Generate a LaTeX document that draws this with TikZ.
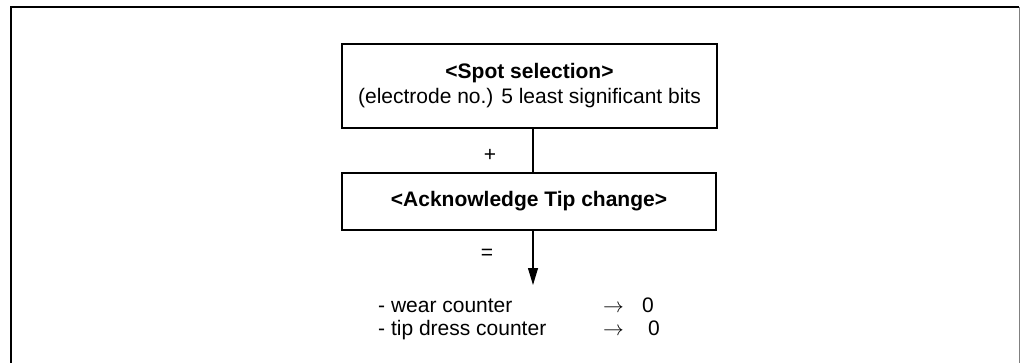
\documentclass[tikz,border=0pt]{standalone}
\usepackage{fontspec}
\setmainfont{Liberation Sans}
\usetikzlibrary{arrows.meta}
\begin{document}
\begin{tikzpicture}[x=1pt,y=-1pt,
  box/.style={draw,line width=1.1pt,inner sep=0pt,align=center,font=\fontsize{21}{25}\selectfont},
  lbl/.style={inner sep=0pt,font=\fontsize{21}{25}\selectfont},
  conn/.style={line width=1.1pt},
  frameline/.style={line width=2pt},
  arr/.style={inner sep=0pt,font=\fontsize{20}{24}\selectfont}]
\useasboundingbox (0,0) rectangle (1020,362);
% outer frame
\draw[frameline] (11,370) -- (11,7) -- (1019,7);
\draw[line width=1pt,gray] (1019,7) -- (1019,370);
% boxes
\node[box,minimum width=375pt,minimum height=84pt] (spot) at (529.5,86)
  {\textbf{<Spot selection>}\\(electrode no.) 5 least significant bits};
\node[box,minimum width=374pt,minimum height=57pt] (ack) at (529,201.5)
  {\textbf{<Acknowledge Tip change>}};
% connectors
\coordinate (end) at (533,285);
\draw[conn] ([xshift=3.5pt]spot.south) -- ([xshift=4pt]ack.north);
\draw[conn,-{Triangle[length=17pt,width=10pt]}] ([xshift=4pt]ack.south) -- (end);
% labels
\node[lbl] (plus) at (490,155) {+};
\node[lbl] (eq) at (487,254) {=};
\node[lbl,anchor=base west] (wear) at (378,312) {- wear counter};
\node[lbl,anchor=base west] (tip) at (378,335) {- tip dress counter};
\node[arr,anchor=base west] (a1) at (603,312) {$\rightarrow$};
\node[arr,anchor=base west] (a2) at (603,335) {$\rightarrow$};
\node[lbl,anchor=base west] (z1) at (642,312) {0};
\node[lbl,anchor=base west] (z2) at (648,335) {0};
\end{tikzpicture}
\end{document}
